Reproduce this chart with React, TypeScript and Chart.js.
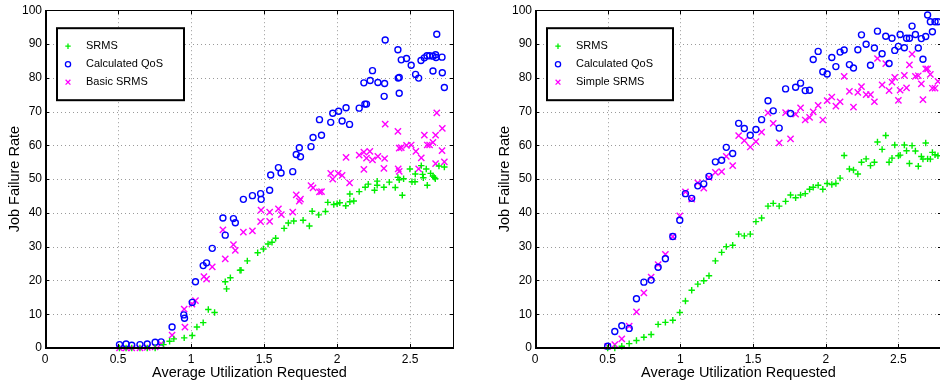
import { useEffect, useRef } from "react";
import { Chart, registerables } from "chart.js";

Chart.register(...registerables);

const X_TICKS = [0, 0.5, 1, 1.5, 2, 2.5];
const Y_TICKS = [0, 10, 20, 30, 40, 50, 60, 70, 80, 90, 100];
const X_MIN = 0;
const X_MAX = 2.8;
const Y_MIN = 0;
const Y_MAX = 100;

const Y_TITLE = "Job Failure Rate";
const X_TITLE = "Average Utilization Requested";

const LEFT_LABELS = ["SRMS", "Calculated QoS", "Basic SRMS"];
const RIGHT_LABELS = ["SRMS", "Calculated QoS", "Simple SRMS"];

// Left chart: [utilization, failure rate]
const L_SRMS: number[][] = [
  [0.51, 0], [0.555, 0], [0.594, 0], [0.65, 0], [0.7, 0], [0.754, 0], [0.811, 1], [0.853, 2], [0.882, 2.7],
  [0.953, 3], [1.008, 3.7], [1.04, 6.2], [1.083, 7.5], [1.118, 11.4], [1.161, 10.5], [1.234, 19.6], [1.243, 17.5],
  [1.269, 20.8], [1.335, 23], [1.342, 23], [1.385, 25.8], [1.456, 28.2], [1.495, 29.3], [1.527, 30.8], [1.554, 31.3],
  [1.579, 32.5], [1.637, 35.4], [1.666, 37], [1.703, 37.6], [1.767, 37.8], [1.81, 36.1], [1.829, 40.5], [1.874, 39.4],
  [1.92, 40.4], [1.936, 43.1], [1.977, 42.5], [2.0, 42.7], [2.018, 43], [2.059, 42.1], [2.087, 45.6], [2.087, 43.3],
  [2.114, 43.5], [2.151, 46.3], [2.192, 47.6], [2.213, 48.5], [2.256, 46.7], [2.274, 49.4], [2.274, 48.2], [2.32, 47.6],
  [2.357, 49.1], [2.398, 47.5], [2.416, 50.5], [2.425, 49.8], [2.455, 50.1], [2.446, 45.2], [2.498, 53], [2.512, 49.2],
  [2.533, 49.2], [2.535, 51.5], [2.576, 54], [2.585, 51.4], [2.59, 50.4], [2.61, 53], [2.617, 48.2], [2.64, 51.7],
  [2.656, 50.9], [2.665, 50.5], [2.672, 50.1], [2.697, 53.9], [2.734, 53.6],
];

const L_QOS: number[][] = [
  [0.51, 1], [0.555, 1.2], [0.594, 0.8], [0.65, 1], [0.7, 1.2], [0.754, 1.7], [0.795, 1.8], [0.87, 6.2], [0.95, 9.8],
  [0.955, 8.8], [1.008, 13.5], [1.03, 19.6], [1.083, 24.4], [1.106, 25.2], [1.145, 29.5], [1.218, 38.5], [1.234, 33.4],
  [1.29, 38.3], [1.303, 37.1], [1.358, 44], [1.42, 45.1], [1.476, 45.7], [1.48, 44], [1.545, 51.2], [1.538, 46.7],
  [1.598, 53.4], [1.616, 51.8], [1.696, 52.2], [1.72, 57.3], [1.741, 59.3], [1.749, 56.6], [1.821, 59.6], [1.835, 62.3],
  [1.879, 67.6], [1.893, 63], [1.956, 66.8], [1.97, 69.5], [2.01, 70.1], [2.034, 67.2], [2.061, 71.1], [2.085, 66.2],
  [2.151, 71], [2.183, 78.5], [2.19, 72.2], [2.201, 72.2], [2.226, 79.2], [2.242, 82.1], [2.279, 78.6], [2.322, 74.5],
  [2.325, 78.3], [2.329, 91.2], [2.416, 88.3], [2.418, 79.9], [2.425, 80.1], [2.425, 75.4], [2.439, 85.3], [2.475, 85.7],
  [2.507, 83.7], [2.537, 81], [2.558, 79.9], [2.574, 85.1], [2.597, 85.9], [2.615, 86.5], [2.633, 86.5], [2.656, 82],
  [2.656, 86.4], [2.674, 86.8], [2.677, 86], [2.682, 92.9], [2.718, 86.1], [2.72, 81.5], [2.734, 77.1],
];

const L_BASIC: number[][] = [
  [0.51, 0], [0.555, 0], [0.594, 0], [0.65, 0], [0.7, 0.2], [0.754, 0.3], [0.795, 1.2], [0.87, 3.8], [0.953, 11.5],
  [0.958, 6.2], [1.006, 13], [1.03, 14], [1.088, 21.1], [1.106, 20.4], [1.145, 24], [1.218, 35], [1.234, 26.4],
  [1.29, 30.6], [1.303, 28.9], [1.358, 34.3], [1.42, 34.7], [1.479, 40.8], [1.476, 37.4], [1.538, 40.2], [1.538, 37.5],
  [1.598, 41.2], [1.618, 39.5], [1.696, 40.2], [1.72, 45.3], [1.741, 43.5], [1.749, 44.1], [1.821, 48.1], [1.835, 47.4],
  [1.879, 46.2], [1.893, 46.3], [1.956, 51.7], [1.97, 50], [2.007, 51.7], [2.034, 51.1], [2.061, 56.4], [2.085, 48.9],
  [2.151, 57.1], [2.183, 52.9], [2.183, 58], [2.201, 56.2], [2.224, 58.2], [2.242, 55.7], [2.279, 56.7], [2.325, 56.1],
  [2.32, 53.2], [2.329, 66.3], [2.416, 64.1], [2.418, 53], [2.425, 52.3], [2.425, 59.2], [2.439, 59.3], [2.475, 60],
  [2.507, 60.1], [2.539, 58.2], [2.558, 53], [2.576, 56.3], [2.597, 63], [2.617, 60.1], [2.633, 60.1], [2.656, 60.9],
  [2.674, 54.6], [2.674, 63], [2.682, 69.6], [2.72, 65], [2.718, 58.4], [2.734, 55.1],
];

// Right chart: shared utilization values, one failure-rate array per series
const R_X = [
  0.5, 0.549, 0.597, 0.648, 0.698, 0.749, 0.799, 0.847, 0.897, 0.948,
  0.996, 1.035, 1.078, 1.12, 1.161, 1.197, 1.241, 1.284, 1.316, 1.36,
  1.401, 1.44, 1.481, 1.52, 1.559, 1.603, 1.639, 1.68, 1.724, 1.758,
  1.793, 1.827, 1.859, 1.889, 1.914, 1.948, 1.98, 2.01, 2.042, 2.07,
  2.099, 2.127, 2.163, 2.191, 2.221, 2.246, 2.278, 2.308, 2.335, 2.356,
  2.388, 2.413, 2.436, 2.456, 2.475, 2.5, 2.512, 2.541, 2.556, 2.576,
  2.594, 2.617, 2.637, 2.658, 2.669, 2.688, 2.701, 2.72, 2.734, 2.752,
  2.772,
];
const R_SRMS = [
  0, 0, 0.5, 1.3, 2.2, 3.2, 4, 7, 7.6, 8.2,
  10.5, 13.9, 17.1, 18.9, 19.9, 21.4, 25.8, 28.3, 30, 30.4,
  33.7, 33.2, 33.7, 37.4, 38.5, 42, 42.8, 42, 43.4, 45.3,
  44.5, 45.3, 45.7, 47, 47.6, 48.2, 47, 48.7, 48.4, 48.7,
  50.3, 57, 53, 52.7, 51.5, 55, 56, 54, 55, 61,
  58.8, 62.9, 55, 56.2, 60.1, 56.9, 57.1, 60.1, 58.4, 54.6,
  59.9, 58.3, 53.8, 56.7, 55.9, 60.7, 56, 55.9, 57.9, 57.2,
  56.9,
];
const R_QOS = [
  0.5, 4.9, 6.6, 5.8, 14.6, 19.5, 20.1, 23.9, 26.4, 33,
  37.8, 45.7, 44.3, 48, 48.6, 50.8, 55.1, 55.6, 59.4, 57.6,
  66.5, 65, 63, 64.7, 67.6, 73.2, 70.2, 65.1, 76.7, 69.4,
  77.2, 78.4, 76.2, 76.3, 85.4, 87.8, 81.8, 81.1, 86, 83.3,
  87.6, 88.2, 83.9, 82.9, 88.3, 92.7, 89.9, 83.7, 88.8, 93.8,
  87.1, 92.3, 84.2, 91.7, 88.1, 89.3, 92.8, 88.9, 91.7, 91.7,
  95.3, 92.8, 88.8, 91.6, 85.5, 92.2, 98.6, 96.6, 93.6, 96.6,
  96.6,
];
const R_SIMPLE = [
  0.5, 1, 2.7, 6.5, 10.7, 16.3, 21, 24.7, 27.7, 33,
  39.1, 46.2, 44.1, 48.9, 47.3, 50.5, 52, 52.2, 56.7, 54,
  62.9, 61.4, 59.5, 61.1, 63.9, 69.6, 66.5, 60.7, 69.7, 61.9,
  69.2, 71.1, 67.5, 68.3, 69.9, 71.8, 67.5, 73.2, 74.3, 71.6,
  72.9, 80.4, 76, 71.3, 75.7, 77.4, 75, 75, 72.9, 85.7,
  77.9, 84.2, 76.2, 78.7, 80.1, 73.3, 76.3, 80.7, 77, 83.8,
  87, 80.4, 80.6, 78.2, 73.5, 82.6, 82.6, 81, 76.9, 76.9,
  78.9,
];

const GREEN = "#00ee00";
const BLUE = "#0000ff";
const MAGENTA = "#ff00ff";
const FONT = "'Liberation Sans', Arial, Helvetica, sans-serif";

function drawMarker(ctx: CanvasRenderingContext2D, style: string, x: number, y: number, color: string) {
  ctx.save();
  ctx.strokeStyle = color;
  ctx.lineWidth = 1.3;
  ctx.setLineDash([]);
  ctx.beginPath();
  if (style === "cross") {
    ctx.moveTo(x - 2.7, y); ctx.lineTo(x + 2.7, y);
    ctx.moveTo(x, y - 2.7); ctx.lineTo(x, y + 2.7);
  } else if (style === "circle") {
    ctx.arc(x, y, 2.6, 0, Math.PI * 2);
  } else {
    ctx.moveTo(x - 2.4, y - 2.4); ctx.lineTo(x + 2.4, y + 2.4);
    ctx.moveTo(x + 2.4, y - 2.4); ctx.lineTo(x - 2.4, y + 2.4);
  }
  ctx.stroke();
  ctx.restore();
}

const framePlugin = {
  id: "matlabFrame",
  beforeDatasetsDraw(chart: any) {
    const { ctx, chartArea: a, scales } = chart;
    const x = scales.x, y = scales.y;
    ctx.save();
    ctx.strokeStyle = "#9a9a9a";
    ctx.lineWidth = 1;
    ctx.setLineDash([1, 3]);
    ctx.beginPath();
    X_TICKS.forEach((v) => {
      const px = Math.round(x.getPixelForValue(v)) + 0.5;
      ctx.moveTo(px, a.top); ctx.lineTo(px, a.bottom);
    });
    Y_TICKS.forEach((v) => {
      const py = Math.round(y.getPixelForValue(v)) + 0.5;
      ctx.moveTo(a.left, py); ctx.lineTo(a.right, py);
    });
    ctx.stroke();
    ctx.restore();
  },
  afterDatasetsDraw(chart: any, _args: any, opts: any) {
    const { ctx, chartArea: a, scales } = chart;
    const x = scales.x, y = scales.y;
    ctx.save();
    ctx.setLineDash([]);
    ctx.strokeStyle = "#000";
    // frame
    ctx.lineWidth = 1;
    ctx.strokeRect(Math.round(a.left) + 0.5, Math.round(a.top) + 0.5, Math.round(a.right - a.left) - 1, Math.round(a.bottom - a.top) - 1);
    ctx.lineWidth = 2;
    ctx.beginPath();
    ctx.moveTo(a.left, a.bottom); ctx.lineTo(a.right, a.bottom);
    ctx.moveTo(a.left + 1, a.top); ctx.lineTo(a.left + 1, a.bottom);
    ctx.stroke();
    // inward ticks
    ctx.lineWidth = 1;
    ctx.beginPath();
    const tl = 4;
    X_TICKS.forEach((v) => {
      const px = Math.round(x.getPixelForValue(v)) + 0.5;
      ctx.moveTo(px, a.bottom); ctx.lineTo(px, a.bottom - tl);
      ctx.moveTo(px, a.top); ctx.lineTo(px, a.top + tl);
    });
    Y_TICKS.forEach((v) => {
      const py = Math.round(y.getPixelForValue(v)) + 0.5;
      ctx.moveTo(a.left, py); ctx.lineTo(a.left + tl, py);
      ctx.moveTo(a.right, py); ctx.lineTo(a.right - tl, py);
    });
    ctx.stroke();

    // legend
    const lx = a.left + 12, ly = a.top + 18, lw = opts.legendWidth, lh = 72;
    ctx.fillStyle = "#fff";
    ctx.fillRect(lx, ly, lw, lh);
    ctx.lineWidth = 2;
    ctx.strokeStyle = "#000";
    ctx.strokeRect(lx, ly, lw, lh);
    const styles = ["cross", "circle", "crossRot"];
    const colors = [GREEN, BLUE, MAGENTA];
    ctx.font = `11px ${FONT}`;
    ctx.textBaseline = "middle";
    ctx.textAlign = "left";
    opts.labels.forEach((lab: string, i: number) => {
      const ry = ly + 18 + i * 18;
      drawMarker(ctx, styles[i], lx + 11, ry, colors[i]);
      ctx.fillStyle = "#000";
      ctx.fillText(lab, lx + 29, ry);
    });

    // axis titles
    ctx.fillStyle = "#000";
    ctx.font = `14.5px ${FONT}`;
    ctx.textAlign = "center";
    ctx.textBaseline = "middle";
    ctx.fillText(X_TITLE, (a.left + a.right) / 2, a.bottom + 25);
    ctx.save();
    ctx.translate(a.left - 30, (a.top + a.bottom) / 2);
    ctx.rotate(-Math.PI / 2);
    ctx.fillText(Y_TITLE, 0, 0);
    ctx.restore();
    ctx.restore();
  },
};

function makeConfig(datasets: any[], yAxisWidth: number, padRight: number, labels: string[], legendWidth: number) {
  return {
    type: "scatter" as const,
    data: { datasets },
    plugins: [framePlugin],
    options: {
      animation: false as const,
      responsive: false,
      maintainAspectRatio: false,
      layout: { padding: { top: 8, right: padRight, left: 0, bottom: 0 } },
      plugins: {
        legend: { display: false },
        tooltip: { enabled: false },
        matlabFrame: { labels, legendWidth },
      },
      scales: {
        x: {
          type: "linear" as const,
          min: X_MIN,
          max: X_MAX,
          grid: { display: false, drawTicks: false },
          border: { display: false },
          afterBuildTicks: (s: any) => { s.ticks = X_TICKS.map((v) => ({ value: v })); },
          afterFit: (s: any) => { s.height = 37; },
          ticks: {
            padding: 4,
            color: "#000",
            maxRotation: 0,
            autoSkip: false,
            font: { family: FONT, size: 12 },
            callback: (v: any) => String(v),
          },
        },
        y: {
          type: "linear" as const,
          min: Y_MIN,
          max: Y_MAX,
          grid: { display: false, drawTicks: false },
          border: { display: false },
          afterBuildTicks: (s: any) => { s.ticks = Y_TICKS.map((v) => ({ value: v })); },
          afterFit: (s: any) => { s.width = yAxisWidth; },
          ticks: {
            padding: 3,
            color: "#000",
            autoSkip: false,
            font: { family: FONT, size: 12 },
            callback: (v: any) => String(v),
          },
        },
      },
    },
  };
}

function ds(label: string, data: any[], style: string, color: string, radius: number) {
  return {
    label,
    data,
    showLine: false,
    pointStyle: style,
    pointRadius: radius,
    pointHoverRadius: radius,
    pointBorderWidth: 1.4,
    pointBorderColor: color,
    pointBackgroundColor: "rgba(0,0,0,0)",
    borderColor: color,
    backgroundColor: "rgba(0,0,0,0)",
    clip: false,
  };
}

export default function App() {
  const leftRef = useRef<HTMLCanvasElement | null>(null);
  const rightRef = useRef<HTMLCanvasElement | null>(null);

  useEffect(() => {
    const toPts = (arr: number[][]) => arr.map(([x, y]) => ({ x, y }));
    const zipPts = (xs: number[], ys: number[]) => xs.map((x, i) => ({ x, y: ys[i] }));

    const leftSets = [
      ds(LEFT_LABELS[0], toPts(L_SRMS), "cross", GREEN, 3.2),
      ds(LEFT_LABELS[1], toPts(L_QOS), "circle", BLUE, 3),
      ds(LEFT_LABELS[2], toPts(L_BASIC), "crossRot", MAGENTA, 4.4),
    ];
    const rightSets = [
      ds(RIGHT_LABELS[0], zipPts(R_X, R_SRMS), "cross", GREEN, 3.2),
      ds(RIGHT_LABELS[1], zipPts(R_X, R_QOS), "circle", BLUE, 3),
      ds(RIGHT_LABELS[2], zipPts(R_X, R_SIMPLE), "crossRot", MAGENTA, 4.4),
    ];
    const c1 = new Chart(leftRef.current as HTMLCanvasElement, makeConfig(leftSets, 45, 16, LEFT_LABELS, 127) as any);
    const c2 = new Chart(rightRef.current as HTMLCanvasElement, makeConfig(rightSets, 65, 8, RIGHT_LABELS, 126) as any);
    return () => {
      c1.destroy();
      c2.destroy();
    };
  }, []);

  return (
    <div style={{ position: "absolute", left: 0, top: 0, width: 940, height: 385, overflow: "hidden", background: "#fff" }}>
      <canvas ref={leftRef} width={470} height={385} style={{ position: "absolute", left: 0, top: 0, width: 470, height: 385 }} />
      <canvas ref={rightRef} width={480} height={385} style={{ position: "absolute", left: 470, top: 0, width: 480, height: 385 }} />
    </div>
  );
}
